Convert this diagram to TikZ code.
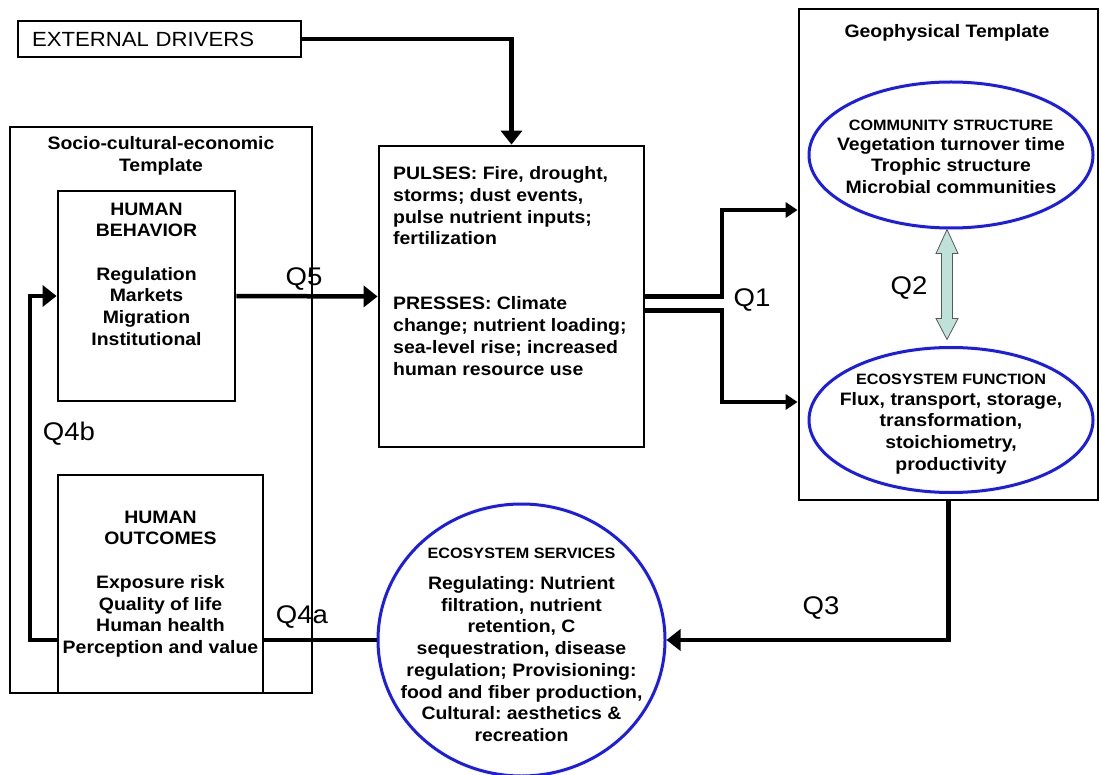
\documentclass[tikz,border=0pt]{standalone}
\usepackage{fontspec}
\setmainfont{Liberation Sans}[FakeStretch=1.08]
\usetikzlibrary{arrows.meta,calc,shapes.geometric}
\frenchspacing

\definecolor{ringblue}{RGB}{28,28,232}
\definecolor{dblfill}{RGB}{190,226,216}
\newcommand{\hfont}{\fontsize{15}{18}\selectfont}

\begin{document}
\begin{tikzpicture}[x=1pt,y=1pt,yscale=-1,
  frame/.style={draw,line width=2.8pt,fill=white,inner sep=0pt},
  ring/.style={draw=ringblue,line width=3pt,ellipse,inner sep=0pt},
  txt/.style={font=\bfseries\fontsize{18}{21.7}\selectfont,align=center,inner sep=0pt},
  qlabel/.style={font=\fontsize{25.5}{30}\selectfont,inner sep=0pt},
  conn/.style={line width=4.5pt,-{Triangle[length=14pt,width=21pt]}},
  small/.style={-{Triangle[length=12pt,width=15pt]}},
  dbl/.style={draw=black!65,line width=0.8pt,fill=dblfill}]

\useasboundingbox (0,0) rectangle (1102,775);

% templates
\node[frame,minimum width=302pt,minimum height=566pt] (socio) at (161,410) {};
\node[txt] (sociotitle) at (161,156) {Socio-cultural-economic\\Template};
\node[frame,minimum width=299pt,minimum height=491pt] (geo) at (948.5,254.5) {};
\node[txt] (geotitle) at (947,33) {Geophysical Template};

% boxes
\node[frame,line width=1.8pt,minimum width=283pt,minimum height=36pt,text width=255pt,align=left,font=\fontsize{20.5}{24}\selectfont] (ext) at (159.5,39) {EXTERNAL DRIVERS};
\node[frame,minimum width=177pt,minimum height=210pt] (behav) at (146.5,296) {};
\node[txt] (behavtxt) at (146.5,274) {HUMAN\\BEHAVIOR\\[21.7pt]Regulation\\Markets\\Migration\\Institutional};
\node[frame,minimum width=265pt,minimum height=301pt] (pulses) at (511.5,296.5) {};
\node[txt,align=left,anchor=west] (pulsetxt) at (393,271) {PULSES: Fire, drought,\\storms; dust events,\\pulse nutrient inputs;\\fertilization\\[43.4pt]PRESSES: Climate\\change; nutrient loading;\\sea-level rise; increased\\human resource use};

% ellipses
\node[ring,minimum width=284pt,minimum height=146pt] (cs) at (951,155) {};
\node[txt] (cstxt) at (951,157) {{\hfont COMMUNITY STRUCTURE}\\[-2pt]Vegetation turnover time\\Trophic structure\\Microbial communities};
\node[ring,minimum width=284pt,minimum height=145pt] (ef) at (951,420) {};
\node[txt] (eftxt) at (951,424) {{\hfont ECOSYSTEM FUNCTION}\\[-1pt]Flux, transport, storage,\\transformation,\\stoichiometry,\\productivity};
\node[ring,fill=white,minimum width=287pt,minimum height=272pt] (svc) at (521.5,640) {};
\node[txt] (svctxt) at (521.5,645) {{\hfont ECOSYSTEM SERVICES}\\[9pt]Regulating: Nutrient\\filtration, nutrient\\retention, C\\sequestration, disease\\regulation; Provisioning:\\food and fiber production,\\Cultural: aesthetics \&\\recreation};

% connectors
\coordinate (q1hi) at (722,210);
\coordinate (q1lo) at (722,402);
\coordinate (q4) at (30,640);
\draw[conn] (ext.east) -| (pulses.north);
\draw[conn] (behav.east) -- (pulses.west);
\draw[conn,small] (pulses.east) -| (q1hi) -- (geo.west |- q1hi);
\draw[conn,small] ($(pulses.east)+(0,14)$) -| (q1lo) -- (geo.west |- q1lo);
\draw[conn] (geo.south) |- (svc.east);
\draw[conn] (svc.west) -- (q4) |- (behav.west);
\draw[dbl] ([xshift=-4pt]cs.south) -- ++(11,24) -- ++(-5.5,0) -- ++(0,65) -- ++(5.5,0) -- ++(-11,21) -- ++(-11,-21) -- ++(5.5,0) -- ++(0,-65) -- ++(-5.5,0) -- cycle;

% outcomes box on top of the Q4 line
\node[frame,line width=1.6pt,minimum width=205pt,minimum height=218pt] (outc) at (160.5,584) {};
\node[txt] (outctxt) at (160.5,584) {HUMAN\\OUTCOMES\\[21.7pt]Exposure risk\\Quality of life\\Human health\\Perception and value};

% labels
\node[qlabel] (q5lab) at (304,279) {Q5};
\node[qlabel] (q1lab) at (752,300) {Q1};
\node[qlabel] (q2lab) at (909,288) {Q2};
\node[qlabel] (q3lab) at (821,608) {Q3};
\node[qlabel] (q4alab) at (302,617) {Q4a};
\node[qlabel] (q4blab) at (69,434) {Q4b};

\end{tikzpicture}
\end{document}
